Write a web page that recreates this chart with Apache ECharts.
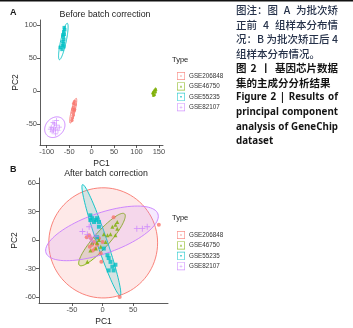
<!DOCTYPE html>
<html>
<head>
<meta charset="utf-8">
<script src="https://cdn.jsdelivr.net/npm/echarts@6/dist/echarts.min.js"></script>
<style>
  html, body { margin: 0; padding: 0; background: #fff; }
  #pca { width: 353px; height: 328px; }
</style>
</head>
<body>
<div id="pca"></div>
<script>
// 分组名称与配色（ggplot 默认色）
const groups = ['GSE206848', 'GSE46750', 'GSE55235', 'GSE82107'];
const colors = ['#F8766D', '#7CAE00', '#00BFC4', '#C77CFF'];

// A：批次矫正前 (PC1, PC2)
const before206848 = [[-38, -16], [-37, -21], [-40, -25], [-39, -30], [-42, -33], [-41, -37], [-43, -41], [-44, -45], [-40, -19], [-38, -28], [-42, -28]];
const before46750 = [[137, -3], [139, 0], [141, 2], [140, -5], [143, 3], [138, -6], [142, -1], [136, -2]];
const before55235 = [[-62, 90], [-60, 93], [-61, 86], [-63, 82], [-62, 78], [-64, 75], [-63, 72], [-65, 69], [-62, 67], [-66, 63], [-70, 66], [-61, 96], [-64, 85]];
const before82107 = [[-90, -55], [-85, -60], [-80, -58], [-78, -52], [-83, -50], [-75, -60], [-88, -62], [-80, -65], [-72, -55], [-86, -48], [-78, -45], [-92, -58], [-84, -56]];

// B：批次矫正后
const after206848 = [[18, 24], [92, 16], [28, -60], [-2, -23], [-22, 5], [-19, 2], [-17, -5], [-14, -2], [-9, -5], [-6, 2], [-21, -7], [-3, -14], [0, -2], [-26, 3], [-12, -9], [-16, -11]];
const after46750 = [[16, 14], [24, 12], [21, 5], [13, 6], [8, 5], [2, 6], [-11, 3], [-9, -3], [-17, -3], [-11, -9], [-20, -11], [-25, -23], [-3, -7], [5, -2], [21, 16], [24, 19], [-6, 0]];
const after55235 = [[-20, 26], [-17, 23], [-11, 21], [-6, 19], [-14, 19], [-6, 14], [-20, 21], [-9, 23], [8, -16], [10, -19], [13, -23], [16, -28], [21, -26], [10, -32], [18, -32], [2, -9], [-9, 3]];
const after82107 = [[-33, 9], [-22, 14], [56, 12], [65, 12], [73, 14], [-19, 2], [-17, -2], [-25, 6], [-11, 4]];

// 置信椭圆 [中心x, 中心y, 长半轴, 短半轴, 角度°]
const ellipsesBefore = [[-41, -30, 20, 4, 70], [140, -2, 7, 3, 60], [-63, 75, 29, 6, 72], [-82, -55, 23, 15, 15]];
const ellipsesAfter = [[1, -3, 89, 58, 0], [-1, 0.5, 46, 10, 35], [-2, 0, 66, 8, 118], [-1, 7, 94, 22, 11.7]];

// 坐标轴刻度
const ticksXA = [-100, -50, 0, 50, 100, 150];
const ticksYA = [-50, 0, 50, 100];
const ticksXB = [-50, 0, 50];
const ticksYB = [-60, -30, 0, 30, 60];

// 右侧图注
const captionLines = [
  { text: '图注：图 A 为批次矫', bold: false, justify: true },
  { text: '正前 4 组样本分布情', bold: false, justify: true },
  { text: '况：B 为批次矫正后 4', bold: false, justify: true },
  { text: '组样本分布情况。', bold: false, justify: false },
  { text: '图 2 丨 基因芯片数据', bold: true, justify: true },
  { text: '集的主成分分析结果', bold: true, justify: false },
  { text: 'Figure 2  |  Results of', bold: true, justify: true, en: true },
  { text: 'principal component', bold: true, justify: true, en: true },
  { text: 'analysis of GeneChip', bold: true, justify: true, en: true },
  { text: 'dataset', bold: true, justify: false, en: true }
];

const symbols = ['circle', 'triangle', 'rect', 'path://M4.3 0H5.7V4.3H10V5.7H5.7V10H4.3V5.7H0V4.3H4.3Z'];
const keyInner = [
  'M8 10A2 2 0 1 0 12 10A2 2 0 1 0 8 10Z',
  'M10 7L13 12.6H7Z',
  'M8 8H12V12H8Z',
  'M9.4 6.4H10.6V9.4H13.6V10.6H10.6V13.6H9.4V10.6H6.4V9.4H9.4Z'
];

function hexA(hex, a) {
  const n = parseInt(hex.slice(1), 16);
  return 'rgba(' + (n >> 16) + ',' + ((n >> 8) & 255) + ',' + (n & 255) + ',' + a + ')';
}

// 椭圆通过坐标系换算成像素
function ellipseRender(fillAlpha) {
  return function (params, api) {
    const cx = api.value(0), cy = api.value(1), a = api.value(2), b = api.value(3);
    const ang = api.value(4) * Math.PI / 180;
    const pts = [];
    for (let i = 0; i < 90; i++) {
      const t = i / 90 * Math.PI * 2;
      const ux = a * Math.cos(t), uy = b * Math.sin(t);
      pts.push(api.coord([cx + ux * Math.cos(ang) - uy * Math.sin(ang), cy + ux * Math.sin(ang) + uy * Math.cos(ang)]));
    }
    const c = colors[params.dataIndex];
    return {
      type: 'polygon',
      shape: { points: pts },
      style: { fill: fillAlpha > 0 ? hexA(c, fillAlpha) : 'none', stroke: c, lineWidth: 0.9 }
    };
  };
}

function axisCommon(ticks, min, max, gridIndex, name, gap) {
  return {
    type: 'value', gridIndex: gridIndex, min: min, max: max,
    name: name, nameLocation: 'middle', nameGap: gap,
    nameTextStyle: { fontSize: 8.5, color: '#222', fontFamily: 'Liberation Sans' },
    axisLine: { show: true, onZero: false, lineStyle: { color: '#333', width: 0.8 } },
    axisTick: { show: true, length: 3, customValues: ticks, lineStyle: { color: '#333', width: 0.8 } },
    axisLabel: { customValues: ticks, fontSize: 7.5, color: '#4d4d4d', margin: 3, fontFamily: 'Liberation Sans' },
    splitLine: { show: false }
  };
}

const pointsBefore = [before206848, before46750, before55235, before82107];
const pointsAfter = [after206848, after46750, after55235, after82107];

const series = [
  { type: 'custom', coordinateSystem: 'cartesian2d', xAxisIndex: 0, yAxisIndex: 0, renderItem: ellipseRender(0), data: ellipsesBefore, z: 1, silent: true },
  { type: 'custom', coordinateSystem: 'cartesian2d', xAxisIndex: 1, yAxisIndex: 1, renderItem: ellipseRender(0.16), data: ellipsesAfter, z: 1, silent: true }
];
groups.forEach(function (g, i) {
  series.push({ name: g, type: 'scatter', xAxisIndex: 0, yAxisIndex: 0, data: pointsBefore[i], symbol: symbols[i], symbolSize: i === 3 ? 5 : 3.5, itemStyle: { color: colors[i] }, z: 3 });
  series.push({ name: g, type: 'scatter', xAxisIndex: 1, yAxisIndex: 1, data: pointsAfter[i], symbol: symbols[i], symbolSize: i === 3 ? 6 : 4, itemStyle: { color: colors[i] }, z: 3 });
});

function legendAt(top) {
  return {
    orient: 'vertical', left: 172, top: top, itemWidth: 8, itemHeight: 8, itemGap: 2.4,
    selectedMode: false,
    textStyle: { fontSize: 6.3, color: '#333', fontFamily: 'Liberation Sans', padding: [0, 0, 0, -1] },
    data: groups.map(function (g, i) {
      return { name: g, icon: 'path://M0 0H20V20H0Z M1.6 1.6V18.4H18.4V1.6Z ' + keyInner[i] };
    })
  };
}

// 图注排版：按空格分段两端对齐
const measureCtx = document.createElement('canvas').getContext('2d');
const capLeft = 236, capRight = 338, capTop = 10, capStep = 14.6;
const graphics = [
  { type: 'line', shape: { x1: 0, y1: 0.8, x2: 353, y2: 0.8 }, style: { stroke: '#111', lineWidth: 1.6 } },
  { type: 'text', x: 10, y: 13, style: { text: 'A', font: 'bold 9px "Liberation Sans"', fill: '#1a1a1a', textVerticalAlign: 'middle' } },
  { type: 'text', x: 10, y: 170, style: { text: 'B', font: 'bold 9px "Liberation Sans"', fill: '#1a1a1a', textVerticalAlign: 'middle' } },
  { type: 'text', x: 172, y: 60, style: { text: 'Type', font: '7.5px "Liberation Sans"', fill: '#222', textVerticalAlign: 'middle' } },
  { type: 'text', x: 172, y: 218, style: { text: 'Type', font: '7.5px "Liberation Sans"', fill: '#222', textVerticalAlign: 'middle' } }
];
captionLines.forEach(function (ln, k) {
  const font = ln.en
    ? 'bold 9.8px "Noto Sans"'
    : (ln.bold ? 'bold 10.5px "Noto Sans CJK SC"' : '500 10.5px "Noto Sans CJK SC"');
  const fill = ln.bold ? '#141414' : '#26324a';
  const y = capTop + k * capStep;
  const words = ln.text.split(/\s+/);
  measureCtx.font = font;
  const widths = words.map(function (w) { return measureCtx.measureText(w).width; });
  const total = widths.reduce(function (s, w) { return s + w; }, 0);
  const space = measureCtx.measureText(' ').width;
  let gap = (ln.justify && words.length > 1) ? (capRight - capLeft - total) / (words.length - 1) : space;
  if (gap < space) gap = space;
  let x = capLeft;
  words.forEach(function (w, i) {
    graphics.push({ type: 'text', x: x, y: y, style: { text: w, font: font, fill: fill, textVerticalAlign: 'middle' } });
    x += widths[i] + gap;
  });
});

const option = {
  animation: false,
  backgroundColor: '#fff',
  title: [
    { text: 'Before batch correction', left: 100, top: 5, textAlign: 'center', textStyle: { fontSize: 8.8, fontWeight: 'normal', color: '#222', fontFamily: 'Liberation Sans' } },
    { text: 'After batch correction', left: 101, top: 164, textAlign: 'center', textStyle: { fontSize: 8.8, fontWeight: 'normal', color: '#222', fontFamily: 'Liberation Sans' } }
  ],
  grid: [
    { left: 40, top: 20, width: 123, height: 125 },
    { left: 39, top: 178, width: 129, height: 125 }
  ],
  xAxis: [
    axisCommon(ticksXA, -115, 159, 0, 'PC1', 14),
    axisCommon(ticksXB, -104, 107, 1, 'PC1', 14)
  ],
  yAxis: [
    axisCommon(ticksYA, -82, 107.6, 0, 'PC2', 20),
    axisCommon(ticksYB, -66.3, 65.3, 1, 'PC2', 20)
  ],
  legend: [legendAt(67), legendAt(226)],
  graphic: graphics,
  series: series
};

const pcaChart = echarts.init(document.getElementById('pca'));
pcaChart.setOption(option);
</script>
</body>
</html>
